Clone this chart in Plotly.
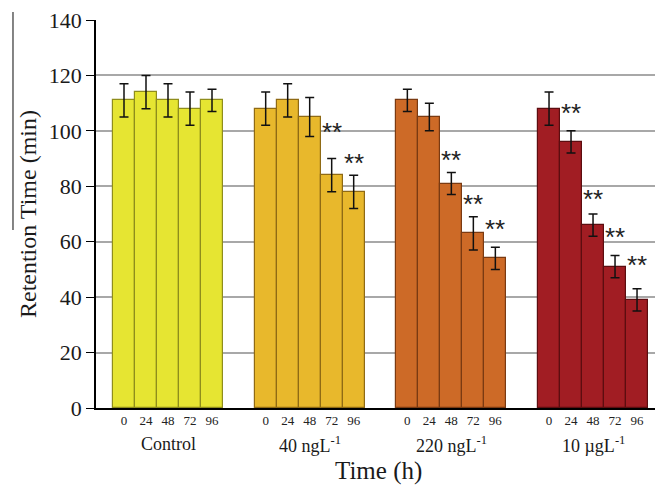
import plotly.graph_objects as go

# ---- data ----
groups = ["Control", "40 ngL<sup>-1</sup>", "220 ngL<sup>-1</sup>", "10 µgL<sup>-1</sup>"]
times = ["0", "24", "48", "72", "96"]
control = [111, 114, 111, 108, 111]
ng40 = [108, 111, 105, 84, 78]
ng220 = [111, 105, 81, 63, 54]
ug10 = [108, 96, 66, 51, 39]
control_err = [6, 6, 6, 6, 4]
ng40_err = [6, 6, 7, 6, 6]
ng220_err = [4, 5, 4, 6, 4]
ug10_err = [6, 4, 4, 4, 4]
# height (y value) of the "**" significance marks; None = not significant
control_sig = [None, None, None, None, None]
ng40_sig = [None, None, None, 101, 90]
ng220_sig = [None, None, 91, 75, 66]
ug10_sig = [None, 108, 77, 63, 53]

values = [control, ng40, ng220, ug10]
errors = [control_err, ng40_err, ng220_err, ug10_err]
sigs = [control_sig, ng40_sig, ng220_sig, ug10_sig]

fills = ["#e6e532", "#e8b82c", "#cd6a27", "#a11d23"]
edges = ["#8f8d1c", "#8f6a14", "#7a3a12", "#5c0d10"]

# layout helpers (bar units)
first_center = 1.273
group_stride = 6.44
x_max = 25.41

fig = go.Figure()
tickvals, ticktext = [], []
annotations = []
for g, (vals, errs, sg) in enumerate(zip(values, errors, sigs)):
    xs = [first_center + g * group_stride + i for i in range(len(times))]
    tickvals += xs
    ticktext += times
    fig.add_trace(go.Bar(
        x=xs, y=vals, width=1.0,
        marker=dict(color=fills[g], line=dict(color=edges[g], width=1.2)),
        error_y=dict(type="data", array=errs, visible=True, color="#111111",
                     thickness=1.5, width=4.5),
        showlegend=False,
    ))
    annotations.append(dict(
        x=xs[2], y=0, xref="x", yref="paper", text=groups[g], showarrow=False,
        yanchor="middle", yshift=-36,
        font=dict(family="Liberation Serif", size=18, color="#1a1a1a")))
    for x, s in zip(xs, sg):
        if s is not None:
            annotations.append(dict(
                x=x, y=s, xref="x", yref="y", text="**", showarrow=False,
                yanchor="middle", yshift=-4,
                font=dict(family="Liberation Sans", size=26, color="#222222")))

annotations.append(dict(
    x=(378 - 96) / 559, y=0, xref="paper", yref="paper", text="Time (h)",
    showarrow=False, yanchor="middle", yshift=-63,
    font=dict(family="Liberation Serif", size=25, color="#1a1a1a")))
annotations.append(dict(
    x=-0.1216, y=0.5, xref="paper", yref="paper", text="Retention Time (min)",
    showarrow=False, textangle=-90, xanchor="center", yanchor="middle",
    font=dict(family="Liberation Serif", size=24, color="#1a1a1a")))

fig.update_layout(
    width=655, height=487,
    margin=dict(l=96, r=0, t=20, b=79),
    plot_bgcolor="white", paper_bgcolor="white",
    bargap=0,
    annotations=annotations,
    shapes=[dict(type="line", xref="paper", yref="paper",
                 x0=-0.1485, x1=-0.1485, y0=0.459, y1=1.0206,
                 line=dict(color="#333333", width=1.2))],
)
fig.update_xaxes(
    range=[0, x_max], tickvals=tickvals, ticktext=ticktext,
    ticks="", showgrid=False, zeroline=False,
    showline=True, linecolor="#000000", linewidth=1.5,
    tickfont=dict(family="Liberation Serif", size=13, color="#222222"),
)
fig.update_yaxes(
    range=[0, 140], dtick=20, ticks="outside", ticklen=8,
    tickcolor="#000000", tickwidth=1.2,
    showline=True, linecolor="#000000", linewidth=1.5,
    showgrid=True, gridcolor="#a8a8a8", gridwidth=1.5, zeroline=False,
    tickfont=dict(family="Liberation Serif", size=22, color="#1a1a1a"),
)

fig.write_html("out.html")
